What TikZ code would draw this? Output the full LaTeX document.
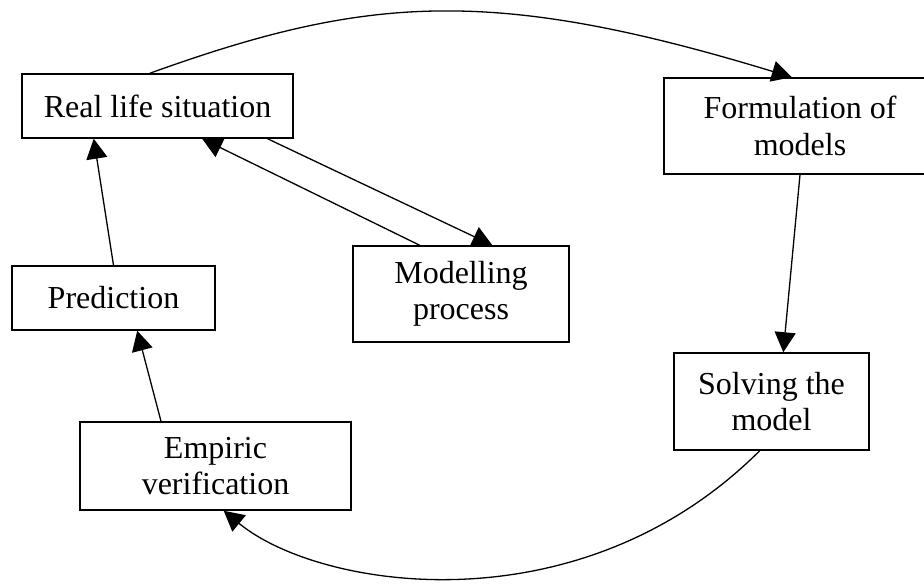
\documentclass[tikz,border=0pt]{standalone}
\usepackage{fontspec}
\setmainfont{Liberation Serif}
\usetikzlibrary{arrows.meta,calc}
\begin{document}
\begin{tikzpicture}[x=1pt,y=-1pt,
  box/.style={draw,line width=1.5pt,inner sep=0pt,align=center,
    font=\fontsize{32}{36.5}\selectfont},
  link/.style={line width=1.3pt,-{Triangle[length=20pt,width=21pt]}}]
\useasboundingbox (0,0) rectangle (924,584);
\node[box,minimum width=271pt,minimum height=64pt] (real) at (157.5,106) {Real life situation};
\node[box,minimum width=272pt,minimum height=96pt] (form) at (800,126) {Formulation of\\models};
\node[box,minimum width=216pt,minimum height=96pt] (model) at (461,294) {Modelling\\process};
\node[box,minimum width=203pt,minimum height=64pt] (pred) at (113.5,298) {Prediction};
\node[box,minimum width=271pt,minimum height=88pt] (emp) at (215.5,466) {Empiric\\verification};
\node[box,minimum width=195pt,minimum height=97pt] (solve) at (771.5,401.5) {Solving the\\model};
\draw[link] (pred.north) -- ($(real.south west)!0.266!(real.south east)$);
\draw[link] ($(emp.north west)!0.30!(emp.north east)$) -- ($(pred.south west)!0.616!(pred.south east)$);
\draw[link] ($(real.south west)!0.904!(real.south east)$) -- ($(model.north west)!0.644!(model.north east)$);
\draw[link] ($(model.north west)!0.31!(model.north east)$) -- ($(real.south west)!0.664!(real.south east)$);
\draw[link] (form.south) -- ($(solve.north west)!0.56!(solve.north east)$);
\draw[link] ($(real.north west)!0.472!(real.north east)$) .. controls (367,-5) and (492,-14) .. ($(form.north west)!0.47!(form.north east)$);
\draw[link] ($(solve.south west)!0.44!(solve.south east)$) .. controls (580,630) and (320,590) .. ($(emp.south west)!0.53!(emp.south east)$);
\end{tikzpicture}
\end{document}
